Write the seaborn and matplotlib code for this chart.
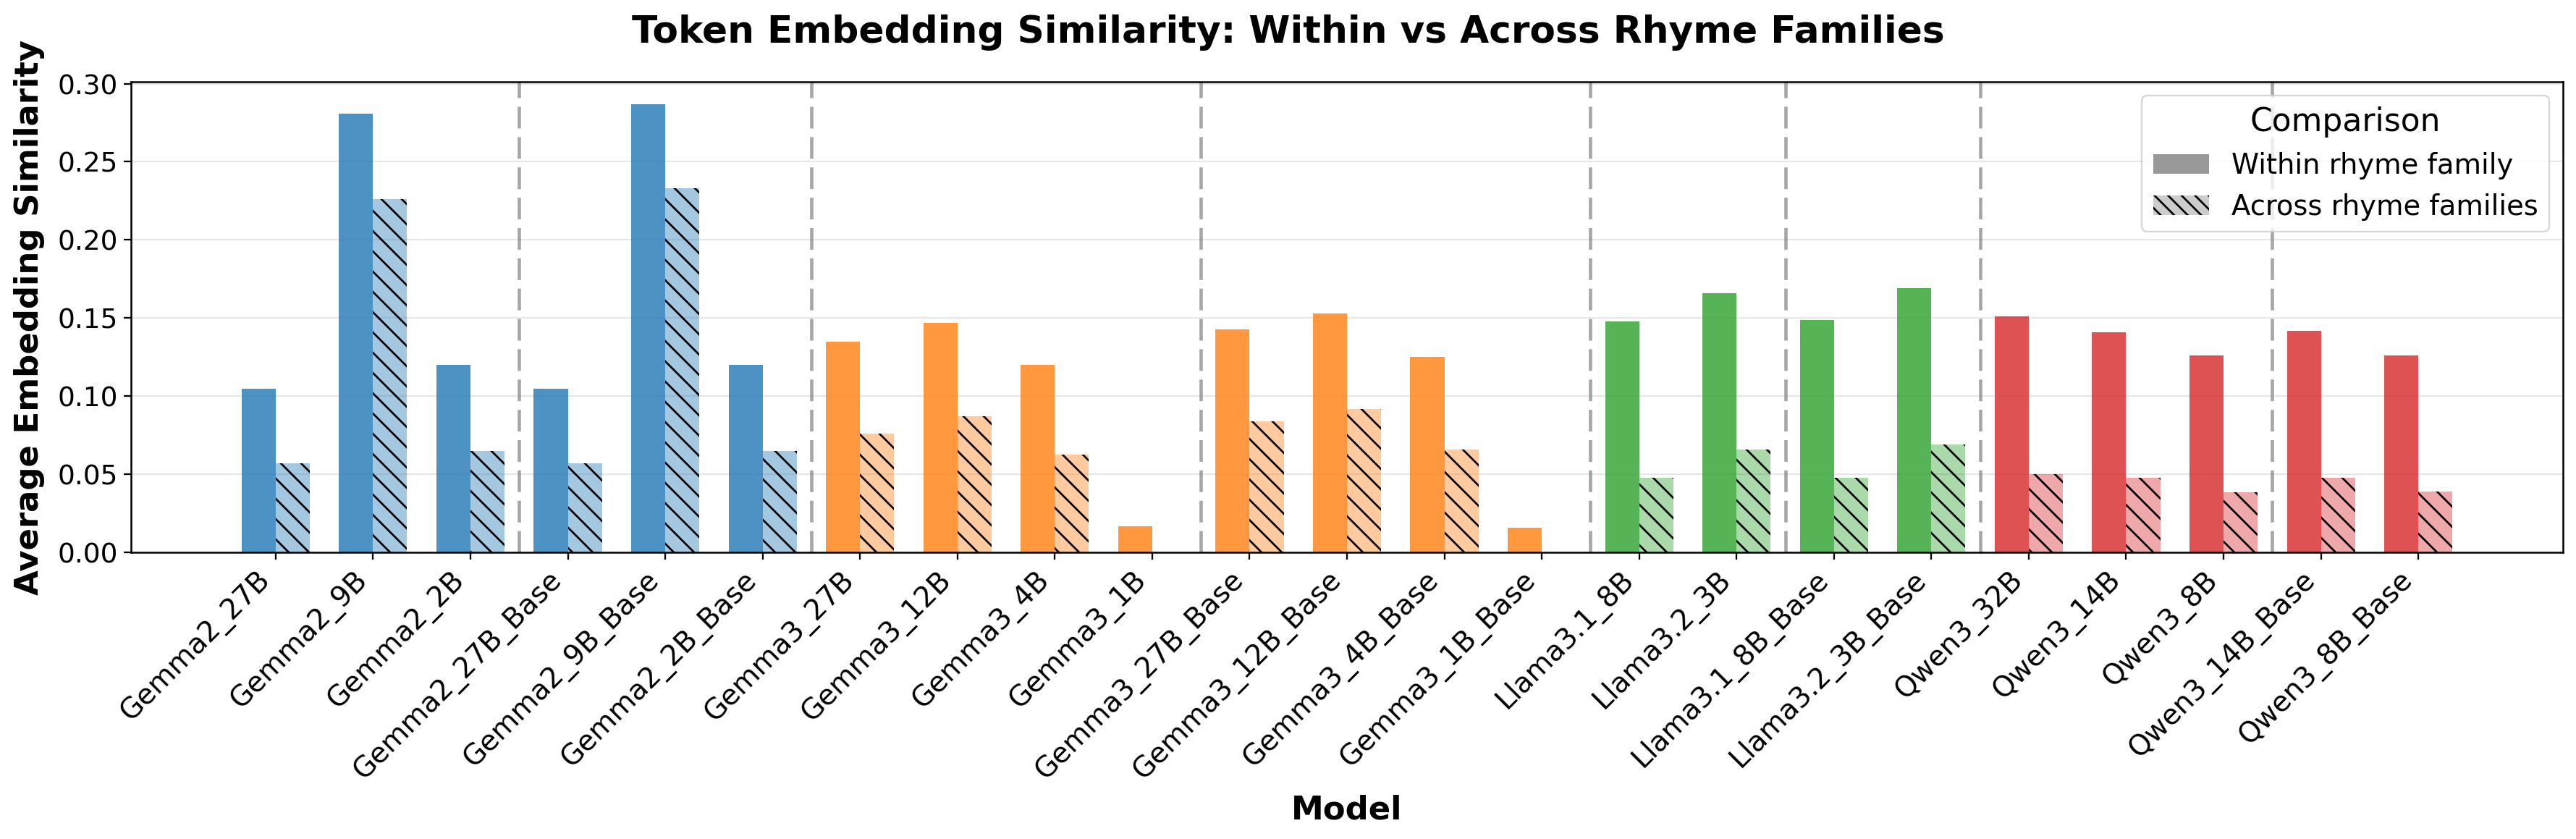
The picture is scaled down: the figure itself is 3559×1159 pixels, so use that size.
import numpy as np
import pandas as pd
import seaborn as sns
import matplotlib.pyplot as plt
from matplotlib.colors import to_rgba
from matplotlib.patches import Patch

DPI = 168
PT = 72 / DPI  # points per output pixel

models = ['Gemma2_27B', 'Gemma2_9B', 'Gemma2_2B',
          'Gemma2_27B_Base', 'Gemma2_9B_Base', 'Gemma2_2B_Base',
          'Gemma3_27B', 'Gemma3_12B', 'Gemma3_4B', 'Gemma3_1B',
          'Gemma3_27B_Base', 'Gemma3_12B_Base', 'Gemma3_4B_Base', 'Gemma3_1B_Base',
          'Llama3.1_8B', 'Llama3.2_3B', 'Llama3.1_8B_Base', 'Llama3.2_3B_Base',
          'Qwen3_32B', 'Qwen3_14B', 'Qwen3_8B', 'Qwen3_14B_Base', 'Qwen3_8B_Base']
family = ['Gemma2'] * 6 + ['Gemma3'] * 8 + ['Llama'] * 4 + ['Qwen3'] * 5
variant = ['chat', 'chat', 'chat', 'base', 'base', 'base',
           'chat', 'chat', 'chat', 'chat', 'base', 'base', 'base', 'base',
           'chat', 'chat', 'base', 'base',
           'chat', 'chat', 'chat', 'base', 'base']
within = [0.105, 0.281, 0.120, 0.105, 0.287, 0.120,
          0.135, 0.147, 0.120, 0.017, 0.143, 0.153, 0.125, 0.016,
          0.148, 0.166, 0.149, 0.169,
          0.151, 0.141, 0.126, 0.142, 0.126]
across = [0.057, 0.226, 0.065, 0.057, 0.233, 0.065,
          0.076, 0.087, 0.0625, np.nan, 0.084, 0.092, 0.066, np.nan,
          0.048, 0.066, 0.048, 0.069,
          0.050, 0.048, 0.0385, 0.048, 0.039]
comparisons = ['Within rhyme family', 'Across rhyme families']

family_colors = {'Gemma2': '#1f77b4', 'Gemma3': '#ff7f0e',
                 'Llama': '#2ca02c', 'Qwen3': '#d62728'}

n = len(models)
df = pd.DataFrame({
    'Model': models * 2,
    'Comparison': [comparisons[0]] * n + [comparisons[1]] * n,
    'Similarity': within + across,
}).dropna()

plt.rcParams.update({'font.family': 'DejaVu Sans',
                     'hatch.linewidth': 2.7 * PT,
                     'axes.linewidth': 2.5 * PT})

fig = plt.figure(figsize=(3559 / DPI, 1159 / DPI), dpi=DPI)
ax = fig.add_axes([181 / 3559, 1 - 763.3 / 1159, 3360 / 3559, (763.3 - 112.6) / 1159])

sns.barplot(data=df, x='Model', y='Similarity', hue='Comparison',
            order=models, hue_order=comparisons, width=0.7,
            errorbar=None, legend=False, ax=ax)

# recolour every bar by model family, hatch the across-family bars
for bar in ax.patches:
    centre = bar.get_x() + bar.get_width() / 2
    i = int(round(centre))
    col = family_colors[family[i]]
    bar.set_linewidth(0)
    if centre < i:
        bar.set_facecolor(to_rgba(col, 0.8))
    else:
        bar.set_facecolor(to_rgba(col, 0.4))
        bar.set_edgecolor('black')
        bar.set_hatch('\\\\')

# dashed separators between model groups
for i in range(n - 1):
    if (family[i], variant[i]) != (family[i + 1], variant[i + 1]):
        ax.axvline(i + 0.5, color='gray', linestyle=(0, (6.5, 2.6)),
                   linewidth=4.6 * PT, alpha=0.7)

ax.set_xlim(-1.485, n - 1 + 1.485)
ax.set_axisbelow(True)
ax.yaxis.grid(True, alpha=0.3, linewidth=2.2 * PT)
ax.xaxis.grid(False)

ax.set_xticks(range(n))
ax.set_xticklabels(models, rotation=45, ha='right')
ax.tick_params(axis='x', labelsize=39 * PT)
ax.tick_params(axis='y', labelsize=37.5 * PT)
ax.tick_params(length=10 * PT, width=2.3 * PT, pad=8.5 * PT)

ax.set_xlabel('Model', fontsize=45 * PT, fontweight='bold', va='baseline')
ax.xaxis.set_label_coords(0.5, (763.3 - 1131.7) / 650.7)
ax.set_ylabel('Average Embedding Similarity', fontsize=45 * PT,
              fontweight='bold', va='baseline')
ax.yaxis.set_label_coords((53 - 181) / 3360, 0.5)

fig.suptitle('Token Embedding Similarity: Within vs Across Rhyme Families',
             x=0.5, y=1 - 59.3 / 1159, va='baseline',
             fontsize=51.7 * PT, fontweight='bold')

handles = [Patch(facecolor=to_rgba('gray', 0.8), linewidth=0, label=comparisons[0]),
           Patch(facecolor=to_rgba('gray', 0.4), edgecolor='black', linewidth=0,
                 hatch='\\\\\\', label=comparisons[1])]
ax.legend(handles=handles, title='Comparison', loc='upper right',
          fontsize=38.5 * PT, title_fontsize=44 * PT)

fig.savefig('out.png', dpi=DPI)
